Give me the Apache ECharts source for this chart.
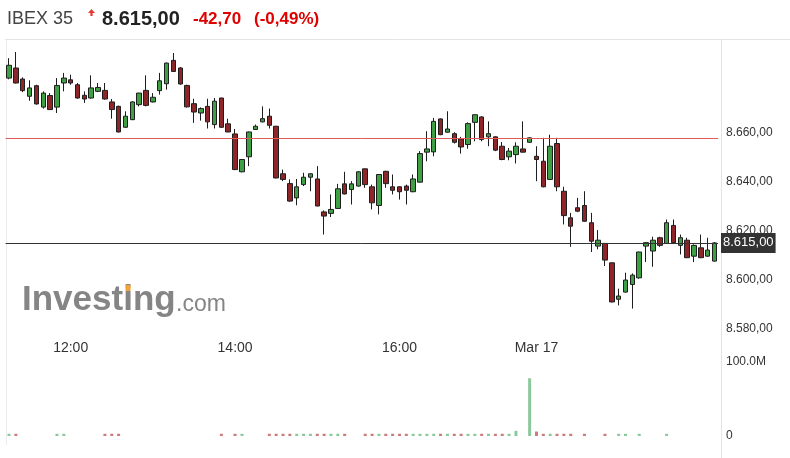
<!DOCTYPE html>
<html>
<head>
<meta charset="utf-8">
<script src="https://cdn.jsdelivr.net/npm/echarts@6/dist/echarts.min.js"></script>
<style>
  html, body { margin: 0; padding: 0; background: #fff; }
  #chart { width: 790px; height: 458px; }
</style>
</head>
<body>
<div id="chart"></div>
<script>
// IBEX 35 5-minute candles, Mar 16 11:15 -> Mar 17 11:10
const instrument = "IBEX 35";
const lastClose = 8615.0;
const change = -42.7;
const dayLabel = "Mar 17";
const dayStartIndex = 77;
const timeLabels = ["12:00", "14:00", "16:00"];
const priceTicks = [8580, 8600, 8620, 8640, 8660];

const openVals = [
  8682.0, 8686.1, 8681.6, 8674.6, 8678.9, 8670.2, 8674.9, 8670.2, 8680.0, 8681.3,
  8679.3, 8675.0, 8673.9, 8676.6, 8677.0, 8672.3, 8670.5, 8662.0, 8665.1, 8671.2,
  8677.0, 8672.3, 8676.9, 8679.7, 8689.2, 8686.1, 8679.0, 8671.6, 8667.8, 8670.5,
  8663.1, 8673.9, 8663.4, 8659.3, 8643.9, 8650.0, 8661.1, 8664.2, 8666.5, 8662.4,
  8643.1, 8639.1, 8633.3, 8638.7, 8641.7, 8641.0, 8627.6, 8627.0, 8629.0, 8639.0,
  8636.7, 8638.1, 8645.1, 8637.8, 8630.2, 8644.1, 8637.8, 8637.8, 8638.1, 8635.8,
  8639.7, 8651.9, 8652.0, 8665.4, 8660.0, 8659.4, 8657.3, 8655.0, 8664.0, 8666.2,
  8658.1, 8658.1, 8654.3, 8650.0, 8650.9, 8653.2, 8655.9, 8650.2, 8648.2, 8640.8,
  8655.4, 8636.0, 8625.2, 8629.3, 8630.2, 8623.2, 8613.7, 8614.8, 8606.9, 8592.1,
  8595.0, 8598.1, 8600.8, 8613.7, 8611.7, 8617.1, 8614.8, 8622.1, 8614.0, 8616.1,
  8609.6, 8613.0, 8609.6, 8607.6
];
const closeVals = [
  8687.2, 8680.0, 8676.9, 8678.0, 8671.5, 8675.9, 8669.2, 8679.0, 8682.0, 8680.0,
  8673.9, 8673.5, 8678.0, 8678.2, 8673.5, 8669.2, 8660.1, 8666.5, 8672.3, 8675.9,
  8670.9, 8674.2, 8680.9, 8688.1, 8684.7, 8679.6, 8670.3, 8668.2, 8669.6, 8664.2,
  8672.6, 8662.0, 8660.1, 8644.8, 8648.9, 8660.1, 8662.4, 8665.5, 8662.8, 8641.4,
  8640.8, 8632.0, 8637.8, 8641.7, 8643.1, 8630.0, 8625.9, 8628.6, 8637.0, 8634.9,
  8639.0, 8643.9, 8638.7, 8631.3, 8642.8, 8639.1, 8636.4, 8635.8, 8636.4, 8641.0,
  8651.3, 8653.2, 8664.4, 8659.0, 8661.3, 8655.9, 8654.0, 8663.5, 8667.1, 8657.0,
  8659.4, 8652.7, 8648.9, 8652.3, 8654.3, 8651.9, 8657.7, 8648.9, 8637.8, 8654.3,
  8637.8, 8626.1, 8621.8, 8627.9, 8623.8, 8615.7, 8616.1, 8608.0, 8591.0, 8593.4,
  8599.9, 8601.9, 8611.3, 8615.1, 8616.1, 8614.0, 8623.2, 8615.1, 8617.1, 8609.0,
  8614.0, 8609.0, 8612.1, 8615.0
];
const lowVals = [
  8681.5, 8679.8, 8676.3, 8672.8, 8671.2, 8669.6, 8669.0, 8667.8, 8676.6, 8679.3,
  8673.6, 8671.9, 8673.6, 8676.3, 8673.2, 8665.5, 8659.9, 8661.8, 8664.9, 8670.5,
  8670.5, 8672.1, 8675.3, 8677.3, 8684.5, 8679.3, 8670.0, 8663.8, 8664.7, 8661.5,
  8661.5, 8661.7, 8660.0, 8644.6, 8643.7, 8646.2, 8661.0, 8664.0, 8661.5, 8641.2,
  8640.1, 8631.7, 8630.3, 8638.1, 8636.0, 8629.9, 8618.4, 8625.5, 8628.8, 8634.7,
  8630.6, 8637.9, 8637.4, 8628.6, 8626.6, 8637.4, 8634.7, 8632.6, 8630.6, 8635.6,
  8639.5, 8648.2, 8650.2, 8658.8, 8659.8, 8655.4, 8651.3, 8653.3, 8656.3, 8656.3,
  8654.3, 8652.3, 8648.6, 8648.6, 8647.3, 8651.7, 8655.7, 8640.1, 8637.6, 8640.6,
  8636.0, 8622.5, 8613.4, 8627.5, 8623.6, 8611.3, 8612.4, 8605.6, 8590.8, 8589.6,
  8594.8, 8588.3, 8600.4, 8607.2, 8605.3, 8613.4, 8614.6, 8614.8, 8610.3, 8608.8,
  8607.2, 8608.8, 8609.4, 8607.4
];
const highVals = [
  8690.1, 8692.6, 8682.3, 8681.1, 8679.3, 8676.6, 8675.9, 8682.0, 8684.1, 8683.4,
  8680.0, 8676.6, 8683.1, 8680.0, 8680.0, 8673.5, 8670.8, 8668.5, 8672.6, 8676.0,
  8683.1, 8675.9, 8684.1, 8688.3, 8692.2, 8686.5, 8679.3, 8673.6, 8670.1, 8673.6,
  8673.9, 8674.0, 8665.5, 8661.3, 8649.0, 8660.3, 8663.1, 8670.5, 8669.6, 8662.6,
  8644.8, 8640.8, 8641.0, 8643.5, 8643.3, 8646.2, 8628.2, 8634.7, 8639.0, 8643.9,
  8640.1, 8644.2, 8645.2, 8638.7, 8643.0, 8644.3, 8642.8, 8638.0, 8638.7, 8642.8,
  8652.3, 8660.4, 8665.8, 8665.6, 8668.5, 8660.0, 8658.1, 8664.0, 8667.2, 8666.5,
  8664.4, 8658.3, 8656.0, 8653.6, 8655.9, 8664.4, 8657.9, 8654.3, 8657.7, 8659.0,
  8657.7, 8637.8, 8627.2, 8633.3, 8636.0, 8627.2, 8620.2, 8614.9, 8607.0, 8596.4,
  8602.9, 8602.6, 8611.4, 8615.2, 8617.5, 8617.5, 8624.5, 8624.5, 8618.4, 8617.1,
  8614.4, 8618.4, 8617.1, 8615.3
];
// volume in shares (0 = no print)
const volumeVals = [
  3e6, 3e6, 0, 0, 0, 0, 0, 3e6, 3e6, 0,
  0, 0, 0, 0, 3e6, 3e6, 3e6, 0, 0, 0,
  0, 0, 0, 0, 0, 0, 0, 0, 0, 0,
  0, 3e6, 0, 3e6, 3e6, 0, 0, 0, 3e6, 3e6,
  3e6, 3e6, 3e6, 3e6, 3e6, 3e6, 3e6, 3e6, 3e6, 3e6,
  0, 0, 3e6, 3e6, 3e6, 3e6, 3e6, 3e6, 3e6, 3e6,
  3e6, 3e6, 3e6, 3e6, 3e6, 3e6, 3e6, 3e6, 3e6, 3e6,
  3e6, 3e6, 3e6, 3e6, 7e6, 0, 78e6, 6e6, 3e6, 3e6,
  3e6, 3e6, 3e6, 0, 3e6, 0, 0, 3e6, 0, 3e6,
  3e6, 0, 3e6, 0, 0, 0, 3e6, 0, 0, 0,
  0, 0, 0, 0
];

// 5 min session slots
function slots(startH, startM, count) {
  const out = [];
  for (let i = 0; i < count; i++) {
    const t = startH * 60 + startM + i * 5;
    out.push(String(Math.floor(t / 60)).padStart(2, "0") + ":" + String(t % 60).padStart(2, "0"));
  }
  return out;
}
const categories = slots(11, 15, dayStartIndex).concat(slots(9, 0, openVals.length - dayStartIndex));

function fmtEs(v) {
  const s = Math.abs(v).toFixed(2).split(".");
  const int = s[0].replace(/\B(?=(\d{3})+(?!\d))/g, ".");
  return (v < 0 ? "-" : "") + int + "," + s[1];
}

const prevClose = lastClose - change;
const pct = (change / prevClose) * 100;
const candleData = openVals.map((o, i) => [o, closeVals[i], lowVals[i], highVals[i]]);
const volData = volumeVals.map((v, i) => ({
  value: v,
  itemStyle: {
    color: closeVals[i] >= openVals[i] ? "rgba(120,190,140,0.85)" : "rgba(190,90,90,0.8)",
  },
}));

const font = "'Liberation Sans', Arial, sans-serif";
const myChart = echarts.init(document.getElementById("chart"));

myChart.setOption({
  animation: false,
  backgroundColor: "#fff",
  textStyle: { fontFamily: font },
  grid: [
    { left: 5.6, width: 712.4, top: 33.8, height: 295.2 },
    { left: 5.6, width: 712.4, top: 362, height: 74 },
  ],
  xAxis: [
    {
      type: "category",
      gridIndex: 0,
      data: categories,
      boundaryGap: true,
      axisLine: { show: false },
      axisTick: { show: false },
      splitLine: { show: false },
      axisLabel: {
        color: "#333",
        fontSize: 14,
        margin: 12,
        interval: (idx, val) => idx === dayStartIndex || (idx < dayStartIndex && timeLabels.includes(val)),
        formatter: (val, idx) => (idx === dayStartIndex ? dayLabel : val),
      },
    },
    {
      type: "category",
      gridIndex: 1,
      data: categories,
      boundaryGap: true,
      show: false,
    },
  ],
  yAxis: [
    {
      type: "value",
      gridIndex: 0,
      position: "right",
      min: 8580,
      max: 8700,
      interval: 20,
      axisLine: { show: false },
      axisTick: { show: false },
      splitLine: { show: false },
      axisLabel: {
        color: "#333",
        fontSize: 12,
        margin: 8,
        formatter: (v) => (priceTicks.includes(v) ? fmtEs(v) : ""),
      },
    },
    {
      type: "value",
      gridIndex: 1,
      position: "right",
      min: 0,
      max: 100e6,
      interval: 100e6,
      axisLine: { show: false },
      axisTick: { show: false },
      splitLine: { show: false },
      axisLabel: {
        color: "#333",
        fontSize: 12,
        margin: 8,
        formatter: (v) => (v === 0 ? "0" : (v / 1e6).toFixed(1) + "M"),
      },
    },
  ],
  series: [
    {
      name: instrument,
      type: "candlestick",
      xAxisIndex: 0,
      yAxisIndex: 0,
      data: candleData,
      barWidth: 5,
      itemStyle: {
        color: "#3f9f45",
        color0: "#8e2529",
        borderColor: "#1e1e1e",
        borderColor0: "#1e1e1e",
        borderWidth: 1,
      },
      markLine: {
        silent: true,
        symbol: ["none", "none"],
        data: [
          {
            yAxis: prevClose,
            lineStyle: { color: "#e05a5a", width: 1, type: "solid" },
            label: { show: false },
          },
          {
            yAxis: lastClose,
            lineStyle: { color: "#333", width: 1, type: "solid" },
            label: {
              show: true,
              position: "end",
              distance: 3,
              formatter: fmtEs(lastClose),
              color: "#fff",
              fontSize: 13,
              backgroundColor: "#333",
              padding: [4, 2, 3, 2],
            },
          },
        ],
      },
    },
    {
      name: "Volume",
      type: "bar",
      xAxisIndex: 1,
      yAxisIndex: 1,
      data: volData,
      barWidth: 3,
    },
  ],
  graphic: [
    { type: "line", shape: { x1: 5, y1: 39.5, x2: 790, y2: 39.5 }, style: { stroke: "#e4e4e4", lineWidth: 1 }, silent: true },
    { type: "line", shape: { x1: 6.5, y1: 39.5, x2: 6.5, y2: 445 }, style: { stroke: "#ececec", lineWidth: 1 }, silent: true },
    { type: "line", shape: { x1: 721.5, y1: 39.5, x2: 721.5, y2: 458 }, style: { stroke: "#e4e4e4", lineWidth: 1 }, silent: true },
    {
      type: "text",
      style: { x: 7, y: 19, text: instrument, font: "18px " + font, fill: "#444", textVerticalAlign: "middle" },
    },
    {
      type: "polygon",
      shape: { points: [[91.5, 9], [95, 13], [92.6, 13], [92.6, 16], [90.4, 16], [90.4, 13], [88, 13]] },
      style: { fill: "#e53935" },
    },
    {
      type: "text",
      style: { x: 102, y: 19, text: fmtEs(lastClose), font: "bold 20px " + font, fill: "#222", textVerticalAlign: "middle" },
    },
    {
      type: "text",
      style: { x: 193, y: 19, text: fmtEs(change), font: "bold 17px " + font, fill: "#e00000", textVerticalAlign: "middle" },
    },
    {
      type: "text",
      style: { x: 254, y: 19, text: "(" + fmtEs(pct) + "%)", font: "bold 17px " + font, fill: "#e00000", textVerticalAlign: "middle" },
    },
    {
      type: "text",
      z: 0,
      style: { x: 22, y: 300.5, text: "Investing", font: "bold 35px " + font, fill: "#858585", textVerticalAlign: "middle" },
    },
    {
      type: "text",
      z: 0,
      style: { x: 176, y: 304.8, text: ".com", font: "23px " + font, fill: "#858585", textVerticalAlign: "middle" },
    },
    {
      type: "rect",
      z: 1,
      shape: { x: 125.5, y: 285, width: 5, height: 6 },
      style: { fill: "#f2a23a" },
    },
  ],
});

window.addEventListener("resize", () => myChart.resize());
</script>
</body>
</html>
